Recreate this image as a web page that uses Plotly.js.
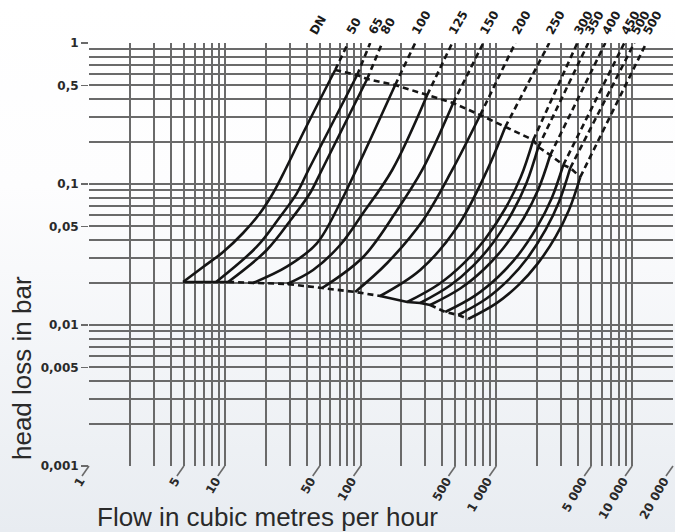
<!DOCTYPE html>
<html><head><meta charset="utf-8">
<script src="https://cdn.plot.ly/plotly-3.0.1.min.js"></script>
<style>
html,body{margin:0;padding:0;}
body{width:675px;height:532px;overflow:hidden;background:linear-gradient(to bottom,#ffffff 0%,#fdfdfe 35%,#e8ecf1 100%);}
#chart{width:675px;height:532px;}
</style></head><body><div id="chart"></div>
<script>
// DN sizes (labels at the top of each curve)
const dnSizes = ["50","65","80","100","125","150","200","250","300","350","400","450","500","500"];

// Flow (m3/h) and head loss (bar), one pair per DN
const flowDN50  = [4.93, 6.92, 9.72, 13.64, 18.2, 22.69, 27.82, 37.76, 65.0];
const lossDN50  = [0.0202, 0.02578, 0.03294, 0.04493, 0.06227, 0.08633, 0.1257, 0.230, 0.6436];
const flowDN65  = [8.63, 17.21, 25.56, 33.93, 41.31, 94.4];
const lossDN65  = [0.0202, 0.03592, 0.05863, 0.0859, 0.1257, 0.593];
const flowDN80  = [10.58, 20.39, 31.87, 42.52, 51.86, 111.8];
const lossDN80  = [0.0202, 0.03403, 0.05863, 0.08633, 0.1257, 0.5555];
const flowDN100 = [16.16, 28.63, 47.64, 70.74, 92.8, 179.9];
const lossDN100 = [0.01986, 0.02591, 0.03797, 0.07332, 0.1257, 0.5036];
const flowDN125 = [28.78, 44.73, 70.74, 104.5, 171.0, 309.6];
const lossDN125 = [0.01954, 0.02455, 0.03693, 0.06227, 0.1257, 0.4278];
const flowDN150 = [52.12, 104.5, 186.1, 284.4, 481.3];
const lossDN150 = [0.01829, 0.03036, 0.0654, 0.1257, 0.3754];
const flowDN200 = [91.25, 157.1, 289.3, 473.2, 761.1];
const lossDN200 = [0.01714, 0.02752, 0.05555, 0.1257, 0.3085];
const flowDN250 = [139.4, 274.9, 515.1, 856.9, 1163];
const lossDN250 = [0.01606, 0.02455, 0.04955, 0.1257, 0.2536];
const flowDN300 = [220.5, 376.3, 577.0, 829.7, 1169, 1511, 1870];
const lossDN300 = [0.01456, 0.01947, 0.02748, 0.04087, 0.06757, 0.1116, 0.2051];
const flowDN350 = [274.9, 453.6, 676.8, 952.0, 1310, 1667, 2036];
const lossDN350 = [0.01432, 0.01897, 0.02638, 0.03866, 0.06279, 0.1018, 0.1829];
const flowDN400 = [325.7, 542.0, 814.4, 1151, 1595, 2036, 2495];
const lossDN400 = [0.01386, 0.01815, 0.02496, 0.03604, 0.0574, 0.09141, 0.1606];
const flowDN450 = [420.2, 693.0, 1034, 1455, 2001, 2547, 3112];
const lossDN450 = [0.01237, 0.01611, 0.02201, 0.03151, 0.0498, 0.07852, 0.1364];
const flowDN500 = [524.0, 842.6, 1232, 1701, 2308, 2897, 3505];
const lossDN500 = [0.01177, 0.01534, 0.02096, 0.03001, 0.04741, 0.07478, 0.1299];
const flowDN500b = [620.8, 998.4, 1460, 2015, 2735, 3433, 4153];
const lossDN500b = [0.01103, 0.01423, 0.01925, 0.02726, 0.04236, 0.06572, 0.1121];

// flow where each curve's dashed extension reaches 1 bar
const topFlow = [81.0, 117.7, 144.3, 252.6, 473.2, 800.9, 1378, 2453, 3946, 4756, 6346, 8759, 10380, 12727];
const dnLabelFlow = 44;

// axis ticks
const xTickVals = [1, 5, 10, 50, 100, 500, 1000, 5000, 10000, 20000];
const xTickText = ["1", "5", "10", "50", "100", "500", "1 000", "5 000", "10 000", "20 000"];
const yTickVals = [0.001, 0.005, 0.01, 0.05, 0.1, 0.5, 1];
const yTickText = ["0,001", "0,005", "0,01", "0,05", "0,1", "0,5", "1"];

const curves = [
  [flowDN50, lossDN50], [flowDN65, lossDN65], [flowDN80, lossDN80], [flowDN100, lossDN100],
  [flowDN125, lossDN125], [flowDN150, lossDN150], [flowDN200, lossDN200], [flowDN250, lossDN250],
  [flowDN300, lossDN300], [flowDN350, lossDN350], [flowDN400, lossDN400], [flowDN450, lossDN450],
  [flowDN500, lossDN500], [flowDN500b, lossDN500b]
];

const INK = '#151515';
const DASH = '6px,4px';
const GRID = '#6a6a6a';
const X_RANGE = [0, 4.30106];
const traces = [];
curves.forEach(([f, l], i) => {
  traces.push({x: f, y: l, mode: 'lines', line: {color: INK, width: 2.6, shape: 'spline', smoothing: 1}, name: 'DN ' + dnSizes[i]});
  traces.push({x: [f[f.length - 1], topFlow[i]], y: [l[l.length - 1], 1], mode: 'lines', line: {color: INK, width: 2.6, dash: DASH}, name: 'DN ' + dnSizes[i] + ' ext'});
});
// upper boundary (end of solid part of each curve)
traces.push({x: curves.map(c => c[0][c[0].length - 1]), y: curves.map(c => c[1][c[1].length - 1]), mode: 'lines', line: {color: INK, width: 2.6, dash: DASH}, name: 'upper'});
// lower boundary (start of each curve), alternating solid / dashed pieces
const startF = curves.map(c => c[0][0]);
const startL = curves.map(c => c[1][0]);
[[0, 2, 'solid'], [2, 7, DASH], [7, 10, 'solid'], [10, 13, DASH]].forEach(([a, b, d]) => {
  traces.push({x: startF.slice(a, b + 1), y: startL.slice(a, b + 1), mode: 'lines', line: {color: INK, width: 2.6, dash: d}, name: 'lower'});
});

// slanted tick marks under the x axis, anchored at the tick values (axis fraction of the log range)
const tickShapes = xTickVals.map(v => ({
  type: 'line', xref: 'paper', yref: 'paper', xsizemode: 'pixel',
  xanchor: (Math.log10(v) - X_RANGE[0]) / (X_RANGE[1] - X_RANGE[0]), x0: 0, x1: -7,
  ysizemode: 'pixel', yanchor: 0, y0: 0, y1: -10, line: {color: GRID, width: 1.6}
}));

function grid(decadeStart, decadeEnd) {
  const v = [];
  for (let e = decadeStart; e < decadeEnd; e++) for (let k = 1; k <= 9; k++) v.push(k * Math.pow(10, e));
  v.push(Math.pow(10, decadeEnd));
  return v;
}

const tickFont = {family: 'DejaVu Sans, Arial', size: 12, color: '#2a2a2a', weight: 'bold'};
const labFont = {family: 'DejaVu Sans, Arial', size: 12, color: '#1a1a1a', weight: 'bold'};

const annotations = dnSizes.map((s, i) => ({
  x: Math.log10(topFlow[i]), y: 0, xref: 'x', yref: 'y', text: s, showarrow: false,
  textangle: -60, xanchor: 'center', yanchor: 'bottom', xshift: 6, yshift: 3, font: labFont
}));
annotations.push({x: Math.log10(dnLabelFlow), y: 0, xref: 'x', yref: 'y', text: 'DN', showarrow: false,
  textangle: -60, xanchor: 'center', yanchor: 'bottom', xshift: 6, yshift: 3, font: labFont});
annotations.push({x: -0.1147, y: 0.2317, xref: 'paper', yref: 'paper', text: 'head loss in bar', showarrow: false,
  textangle: -90, xanchor: 'center', yanchor: 'middle', font: {family: 'Liberation Sans, Arial', size: 26, color: '#2a2a2a'}});
annotations.push({x: 0.305, y: -0.1206, xref: 'paper', yref: 'paper', text: 'Flow in cubic metres per hour', showarrow: false,
  xanchor: 'center', yanchor: 'middle', font: {family: 'Liberation Sans, Arial', size: 26, color: '#2a2a2a'}});

const layout = {
  width: 675, height: 532,
  margin: {l: 89, r: 2, t: 43, b: 66, pad: 0},
  paper_bgcolor: 'rgba(0,0,0,0)', plot_bgcolor: 'rgba(0,0,0,0)',
  showlegend: false, hovermode: false,
  xaxis: {
    type: 'log', range: X_RANGE, tickmode: 'array', tickvals: xTickVals, ticktext: xTickText,
    tickangle: -60, ticks: 'outside', ticklen: 7, tickwidth: 1.5, tickcolor: 'rgba(0,0,0,0)',
    ticklabelshift: -9, ticklabelstandoff: -5,
    showgrid: true, gridcolor: GRID, gridwidth: 2, zeroline: false, showline: false,
    tickfont: tickFont,
    minor: {tickmode: 'array', tickvals: grid(0, 4), showgrid: true, gridcolor: GRID, gridwidth: 2, ticks: ''}
  },
  yaxis: {
    type: 'log', range: [-3, 0], tickmode: 'array', tickvals: yTickVals, ticktext: yTickText,
    ticks: 'outside', ticklen: 7, tickwidth: 1.5, tickcolor: GRID,
    showgrid: true, gridcolor: GRID, gridwidth: 2, zeroline: false, showline: false,
    tickfont: tickFont,
    minor: {tickmode: 'array', tickvals: grid(-3, 0), showgrid: true, gridcolor: GRID, gridwidth: 2, ticks: ''}
  },
  shapes: tickShapes,
  annotations: annotations
};

Plotly.newPlot('chart', traces, layout, {staticPlot: true, displayModeBar: false});
</script></body></html>
